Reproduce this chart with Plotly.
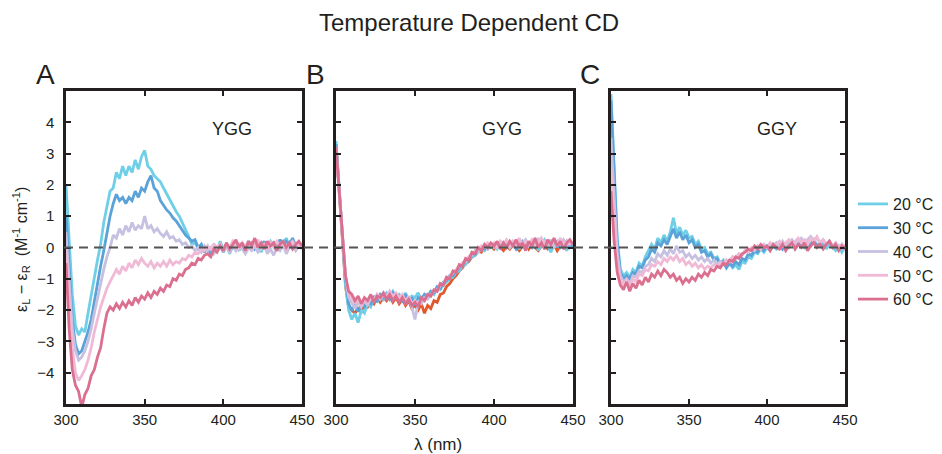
import plotly.graph_objects as go

W, H = 942, 454
OFF = 8  # page body margin the browser adds around the plot div

wavelength = list(range(300, 451, 2))  # nm

temps = ["20 °C", "30 °C", "40 °C", "50 °C", "60 °C"]
colors = ["#6fcfe6", "#5aa2d8", "#c6c0e1", "#f0bad6", "#db6f8f"]

# panel A - YGG
a20 = [2.0, 0.2, -1.5, -2.5, -2.8, -2.6, -2.7, -2.1, -1.5, -1.0,
       -0.4, 0.1, 0.8, 1.3, 1.8, 1.9, 2.4, 2.2, 2.6, 2.3,
       2.6, 2.4, 2.8, 2.5, 2.9, 3.1, 2.6, 2.5, 2.3, 2.2,
       2.1, 1.9, 1.7, 1.5, 1.3, 1.15, 1.0, 0.8, 0.55, 0.35,
       0.1, 0.15, -0.05, 0.1, -0.1, 0.05, -0.15, 0.1, -0.1, 0.2,
       -0.05, 0.1, -0.2, 0.05, 0.15, -0.1, 0.1, 0.0, 0.2, -0.1,
       0.1, 0.05, -0.15, 0.15, 0.0, 0.2, 0.05, -0.1, 0.25, 0.1,
       0.3, 0.05, 0.2, 0.0, 0.1, 0.05]
a30 = [1.0, -0.8, -2.3, -3.1, -3.4, -3.3, -3.0, -2.7, -2.3, -1.7,
       -1.2, -0.6, -0.1, 0.5, 1.0, 1.4, 1.7, 1.5, 1.6, 1.4,
       1.6, 1.5, 1.8, 1.6, 1.9, 1.8, 2.1, 2.3, 1.9, 1.8,
       1.5, 1.35, 1.2, 1.1, 0.95, 0.85, 0.7, 0.55, 0.4, 0.3,
       0.2, 0.25, 0.0, 0.1, -0.15, 0.0, -0.2, 0.1, -0.1, 0.05,
       -0.15, 0.1, -0.1, 0.0, 0.15, -0.05, 0.1, -0.1, 0.05, 0.15,
       -0.05, 0.1, 0.0, 0.2, -0.05, 0.1, 0.15, 0.0, 0.25, 0.05,
       0.2, 0.1, 0.3, 0.05, 0.15, 0.0]
a40 = [0.5, -1.2, -2.6, -3.3, -3.6, -3.5, -3.3, -3.0, -2.6, -2.1,
       -1.6, -1.1, -0.7, -0.3, 0.0, 0.4, 0.3, 0.6, 0.4, 0.7,
       0.5, 0.8, 0.55, 0.7, 0.6, 1.0, 0.6, 0.7, 0.5, 0.6,
       0.45, 0.35, 0.5, 0.3, 0.35, 0.2, 0.25, 0.1, 0.15, 0.0,
       0.05, -0.1, 0.0, -0.15, 0.05, -0.1, 0.0, -0.2, -0.05, 0.1,
       -0.1, 0.0, -0.15, 0.05, -0.1, 0.1, -0.05, -0.2, 0.0, -0.1,
       0.05, -0.15, -0.05, 0.1, -0.2, -0.05, -0.25, 0.0, -0.1, 0.1,
       -0.2, 0.0, 0.1, -0.1, 0.05, -0.05]
a50 = [0.0, -1.8, -3.2, -4.0, -4.25, -4.1, -3.9, -3.6, -3.2, -2.7,
       -2.3, -1.9, -1.6, -1.3, -1.1, -0.9, -0.7, -0.85, -0.6, -0.75,
       -0.5, -0.65, -0.4, -0.55, -0.35, -0.5, -0.6, -0.45, -0.65, -0.5,
       -0.6, -0.45, -0.6, -0.4, -0.55, -0.45, -0.5, -0.35, -0.4, -0.25,
       -0.3, -0.15, -0.2, -0.05, -0.1, 0.05, -0.05, 0.1, 0.0, 0.1,
       -0.1, 0.15, 0.0, 0.2, 0.05, -0.05, 0.15, 0.0, 0.2, -0.05,
       0.1, 0.25, 0.0, 0.1, -0.05, 0.15, 0.0, 0.2, 0.05, 0.15,
       -0.05, 0.1, 0.2, 0.0, 0.1, 0.05]
a60 = [-0.5, -2.6, -3.9, -4.4, -4.6, -5.1, -4.7, -4.5, -4.1, -3.9,
       -3.5, -3.2, -2.6, -2.1, -1.9, -2.0, -1.8, -1.95, -1.75, -1.9,
       -1.7, -1.85, -1.6, -1.75, -1.55, -1.65, -1.45, -1.6, -1.4, -1.5,
       -1.3, -1.4, -1.2, -1.25, -1.0, -1.05, -0.85, -0.9, -0.7, -0.65,
       -0.5, -0.55, -0.35, -0.4, -0.25, -0.2, -0.3, -0.05, -0.15, 0.05,
       -0.1, 0.15, -0.05, 0.1, 0.25, 0.0, 0.15, -0.1, 0.2, 0.05,
       0.3, 0.0, 0.15, -0.05, 0.2, 0.05, 0.15, -0.1, 0.1, 0.2,
       0.0, 0.15, -0.05, 0.1, 0.2, 0.05]

# panel B - GYG
b20 = [3.4, 2.0, 0.4, -1.2, -2.0, -2.3, -2.1, -2.4, -2.0, -2.1,
       -1.8, -1.9, -1.6, -1.75, -1.5, -1.65, -1.45, -1.55, -1.4, -1.6,
       -1.5, -1.65, -1.45, -1.7, -1.55, -1.6, -1.45, -1.7, -1.5, -1.55,
       -1.4, -1.5, -1.3, -1.35, -1.2, -1.1, -1.0, -0.95, -0.8, -0.75,
       -0.6, -0.55, -0.4, -0.3, -0.25, -0.15, -0.05, -0.1, 0.05, 0.0,
       0.1, -0.05, 0.15, 0.05, 0.2, 0.0, 0.1, 0.15, -0.05, 0.2,
       0.05, 0.15, 0.0, 0.2, -0.1, 0.1, 0.25, 0.05, -0.15, 0.1,
       0.2, 0.0, 0.15, -0.1, 0.1, 0.05]
b30 = [3.3, 1.9, 0.4, -1.0, -1.8, -2.0, -1.85, -2.05, -1.8, -1.9,
       -1.7, -1.8, -1.55, -1.7, -1.5, -1.6, -1.5, -1.65, -1.45, -1.6,
       -1.55, -1.7, -1.5, -1.75, -1.6, -1.85, -1.6, -1.65, -1.5, -1.6,
       -1.4, -1.45, -1.25, -1.3, -1.1, -1.05, -0.9, -0.9, -0.75, -0.65,
       -0.55, -0.45, -0.4, -0.25, -0.2, -0.1, 0.0, -0.05, 0.1, 0.0,
       0.05, 0.15, 0.0, 0.1, 0.2, 0.05, 0.15, -0.05, 0.1, 0.2,
       0.0, 0.15, 0.1, 0.25, 0.05, 0.15, 0.0, 0.2, 0.1, 0.25,
       0.0, 0.15, 0.05, 0.2, 0.0, 0.1]
b40 = [3.2, 1.9, 0.4, -0.9, -1.6, -1.8, -1.95, -1.75, -1.9, -1.7,
       -1.85, -1.6, -1.7, -1.5, -1.6, -1.45, -1.6, -1.4, -1.55, -1.5,
       -1.7, -1.55, -1.8, -1.6, -1.9, -2.3, -1.75, -1.8, -1.6, -1.65,
       -1.5, -1.4, -1.35, -1.2, -1.15, -1.0, -0.95, -0.8, -0.75, -0.6,
       -0.5, -0.45, -0.3, -0.25, -0.1, -0.15, 0.0, 0.05, -0.05, 0.1,
       0.0, 0.1, 0.2, 0.05, 0.15, 0.0, 0.2, 0.1, 0.0, 0.15,
       0.25, 0.05, 0.2, 0.1, 0.3, 0.05, 0.2, 0.1, 0.25, 0.0,
       0.15, 0.1, 0.25, 0.05, 0.2, 0.1]
b50 = [3.1, 1.8, 0.3, -0.9, -1.5, -1.6, -1.8, -1.6, -1.85, -1.65,
       -1.75, -1.55, -1.7, -1.5, -1.65, -1.5, -1.55, -1.4, -1.6, -1.45,
       -1.6, -1.5, -1.75, -1.55, -1.8, -1.7, -1.85, -1.65, -1.7, -1.5,
       -1.55, -1.35, -1.4, -1.2, -1.15, -0.95, -0.95, -0.8, -0.7, -0.6,
       -0.5, -0.4, -0.3, -0.2, -0.15, -0.05, 0.05, 0.0, 0.15, 0.05,
       0.15, 0.0, 0.2, 0.1, 0.25, 0.05, 0.2, 0.1, 0.3, 0.05,
       0.2, 0.1, 0.25, 0.05, 0.15, 0.3, 0.1, 0.2, 0.05, 0.25,
       0.1, 0.3, 0.05, 0.2, 0.1, 0.15]
b60 = [3.2, 1.8, 0.3, -0.9, -1.4, -1.5, -1.7, -1.55, -1.8, -1.6,
       -1.7, -1.5, -1.75, -1.55, -1.6, -1.45, -1.65, -1.5, -1.7, -1.55,
       -1.75, -1.6, -1.8, -1.65, -1.85, -1.75, -1.9, -1.6, -1.7, -1.5,
       -1.55, -1.35, -1.4, -1.15, -1.2, -0.95, -1.0, -0.75, -0.8, -0.55,
       -0.6, -0.35, -0.4, -0.15, -0.2, 0.0, -0.1, 0.1, 0.0, 0.15,
       0.05, 0.2, -0.05, 0.15, 0.0, 0.2, 0.05, 0.25, 0.0, 0.15,
       -0.1, 0.2, 0.05, 0.3, 0.0, 0.15, -0.05, 0.25, 0.1, 0.3,
       0.05, 0.2, -0.05, 0.15, 0.25, 0.1]
# extra orange-red scan that sits underneath in panel B
b_extra = [3.3, 1.9, 0.3, -1.2, -1.9, -2.0, -2.1, -1.95, -2.05, -1.8,
           -1.9, -1.7, -1.8, -1.6, -1.75, -1.6, -1.7, -1.55, -1.75, -1.6,
           -1.8, -1.65, -1.85, -1.7, -1.95, -1.85, -2.0, -1.8, -2.1, -1.85,
           -1.95, -1.7, -1.75, -1.5, -1.45, -1.25, -1.15, -1.0, -0.9, -0.75,
           -0.65, -0.5, -0.45, -0.3, -0.25, -0.1, -0.15, 0.0, -0.05, 0.05,
           -0.05, 0.1, 0.0, -0.1, 0.05, -0.05, 0.1, 0.0, -0.1, 0.05,
           0.15, -0.05, 0.1, 0.0, -0.1, 0.05, 0.1, -0.05, 0.0, 0.1,
           -0.1, 0.05, 0.0, -0.05, 0.1, 0.0]

# panel C - GGY
c20 = [4.9, 2.5, 0.3, -0.7, -0.9, -0.8, -0.95, -0.7, -0.8, -0.5,
       -0.6, -0.3, -0.1, 0.1, -0.05, 0.3, 0.15, 0.4, 0.2, 0.5,
       0.95, 0.45, 0.65, 0.4, 0.55, 0.3, 0.35, 0.1, 0.2, -0.05,
       0.0, -0.2, -0.15, -0.35, -0.3, -0.5, -0.4, -0.6, -0.5, -0.65,
       -0.55, -0.7, -0.45, -0.5, -0.3, -0.35, -0.15, -0.2, -0.05, -0.15,
       0.0, -0.1, 0.05, -0.05, 0.1, -0.05, 0.1, 0.0, 0.15, -0.05,
       0.1, 0.2, 0.0, 0.15, 0.05, 0.2, 0.0, 0.1, 0.2, -0.05,
       0.1, 0.0, -0.1, 0.05, -0.15, 0.0]
c30 = [4.7, 2.2, 0.1, -0.8, -1.0, -0.9, -1.0, -0.8, -0.85, -0.6,
       -0.65, -0.4, -0.3, -0.05, -0.15, 0.15, 0.05, 0.25, 0.1, 0.35,
       0.6, 0.3, 0.5, 0.25, 0.4, 0.15, 0.25, 0.0, 0.1, -0.15,
       -0.1, -0.3, -0.2, -0.4, -0.35, -0.55, -0.45, -0.65, -0.5, -0.6,
       -0.45, -0.55, -0.35, -0.4, -0.2, -0.25, -0.1, -0.15, 0.0, -0.1,
       0.05, -0.05, 0.1, 0.0, 0.15, -0.05, 0.1, 0.05, 0.2, 0.0,
       0.15, 0.05, 0.2, 0.0, 0.1, 0.25, 0.05, 0.15, 0.0, 0.1,
       0.2, 0.05, 0.1, -0.05, 0.05, 0.0]
c40 = [3.5, 1.5, -0.2, -0.9, -1.1, -1.0, -1.2, -0.9, -0.95, -0.75,
       -0.8, -0.6, -0.55, -0.35, -0.45, -0.2, -0.3, -0.1, -0.25, -0.05,
       -0.2, 0.05, -0.15, -0.1, -0.3, -0.2, -0.35, -0.25, -0.4, -0.3,
       -0.45, -0.35, -0.5, -0.4, -0.55, -0.45, -0.5, -0.4, -0.45, -0.3,
       -0.35, -0.2, -0.25, -0.1, -0.15, -0.05, -0.1, 0.05, -0.05, 0.1,
       0.0, 0.1, 0.05, 0.15, 0.0, 0.2, 0.05, 0.15, 0.25, 0.1,
       0.2, 0.3, 0.15, 0.25, 0.35, 0.2, 0.3, 0.15, 0.25, 0.1,
       0.2, 0.05, 0.15, -0.05, 0.1, -0.1]
c50 = [2.5, 0.8, -0.5, -1.0, -1.2, -1.05, -1.25, -1.0, -1.1, -0.85,
       -0.9, -0.7, -0.75, -0.55, -0.6, -0.45, -0.55, -0.35, -0.45, -0.3,
       -0.4, -0.25, -0.45, -0.35, -0.55, -0.45, -0.6, -0.5, -0.65, -0.55,
       -0.7, -0.6, -0.65, -0.55, -0.6, -0.5, -0.55, -0.4, -0.45, -0.3,
       -0.35, -0.2, -0.25, -0.1, -0.15, 0.0, -0.05, 0.05, -0.05, 0.1,
       0.0, 0.15, 0.05, 0.1, 0.2, 0.05, 0.15, 0.25, 0.1, 0.2,
       0.3, 0.15, 0.25, 0.1, 0.3, 0.2, 0.35, 0.15, 0.25, 0.1,
       0.2, 0.05, 0.15, 0.0, 0.1, 0.05]
c60 = [1.8, 0.2, -0.8, -1.2, -1.35, -1.1, -1.4, -1.15, -1.3, -1.05,
       -1.2, -0.95, -1.1, -0.85, -0.95, -0.75, -0.9, -0.7, -0.8, -0.95,
       -0.85, -1.05, -0.95, -1.15, -1.0, -1.1, -0.95, -1.05, -0.85, -0.95,
       -0.8, -0.9, -0.7, -0.75, -0.6, -0.65, -0.5, -0.55, -0.4, -0.45,
       -0.3, -0.35, -0.2, -0.15, -0.05, -0.1, 0.05, -0.05, 0.1, 0.0,
       0.05, -0.1, 0.1, 0.0, -0.05, 0.1, -0.1, 0.05, 0.15, -0.05,
       0.1, 0.0, 0.15, -0.1, 0.05, 0.15, 0.0, 0.1, -0.05, 0.1,
       0.2, 0.0, 0.1, -0.1, 0.05, -0.05]

panels = [
    ("A", "YGG", [a20, a30, a40, a50, a60]),
    ("B", "GYG", [b20, b30, b40, b50, b60]),
    ("C", "GGY", [c20, c30, c40, c50, c60]),
]

FONT = "Liberation Sans, Arial, Helvetica, sans-serif"
INK = "#231f20"

# pixel boxes of the three frames (screen coordinates)
xdom = [(66, 302), (336, 573), (611, 845)]
ytop, ybot = 91, 404


def px(x):
    return (x - OFF) / W


def py(y):
    return 1 - (y - OFF) / H


def label(x, y, text, size, **kw):
    fig.add_annotation(x=px(x), y=py(y), xref="paper", yref="paper",
                       xanchor="center", yanchor="middle", text=text,
                       showarrow=False, font=dict(family=FONT, size=size, color=INK), **kw)


fig = go.Figure()

for i, (letter, name, series) in enumerate(panels):
    xa = "x" if i == 0 else f"x{i + 1}"
    ya = "y" if i == 0 else f"y{i + 1}"
    if i == 1:
        fig.add_trace(go.Scatter(x=wavelength, y=b_extra, mode="lines",
                                 line=dict(color="#e2572b", width=2.8),
                                 showlegend=False, xaxis=xa, yaxis=ya))
    for t, c, s in zip(temps, colors, series):
        fig.add_trace(go.Scatter(x=wavelength, y=s, mode="lines", name=t,
                                 line=dict(color=c, width=2.8),
                                 showlegend=(i == 0), legendgroup=t,
                                 xaxis=xa, yaxis=ya))

    axis_common = dict(showline=True, linecolor=INK, linewidth=2.5, mirror="ticks",
                       ticks="inside", ticklen=5, tickwidth=2, tickcolor=INK,
                       showgrid=False, zeroline=False, automargin=False,
                       tickfont=dict(family=FONT, size=15, color=INK))
    xkey = "xaxis" if i == 0 else f"xaxis{i + 1}"
    ykey = "yaxis" if i == 0 else f"yaxis{i + 1}"
    fig.update_layout({
        xkey: dict(axis_common, domain=[px(xdom[i][0]), px(xdom[i][1])],
                   range=[300, 450], tickvals=[300, 350, 400, 450], anchor=ya),
        ykey: dict(axis_common, domain=[py(ybot), py(ytop)],
                   range=[-5, 5], tickvals=[-4, -3, -2, -1, 0, 1, 2, 3, 4],
                   showticklabels=(i == 0), ticklabelstandoff=6, anchor=xa),
    })

    label(xdom[i][0] - 21, 74, letter, 28)
    label(xdom[i][0] + 166, 129, name, 18)

# dashed zero line across all panels
fig.add_shape(type="line", xref="paper", yref="y", x0=px(64), x1=px(846), y0=0, y1=0,
              line=dict(color="#555555", width=2, dash="9px,6px"))

label(469, 22, "Temperature Dependent CD", 24)
label(438, 444, "λ (nm)", 17)
label(21, 250, "ε<sub>L</sub> − ε<sub>R</sub>  (M<sup>-1</sup> cm<sup>-1</sup>)", 16,
      textangle=-90)

fig.update_layout(
    width=W, height=H,
    margin=dict(l=0, r=0, t=0, b=0),
    paper_bgcolor="white", plot_bgcolor="white",
    showlegend=True,
    legend=dict(x=px(853), y=py(187), xanchor="left", yanchor="top",
                font=dict(family=FONT, size=16, color=INK),
                bgcolor="rgba(0,0,0,0)", itemwidth=30, tracegroupgap=0),
)

fig.write_html("out.html")
